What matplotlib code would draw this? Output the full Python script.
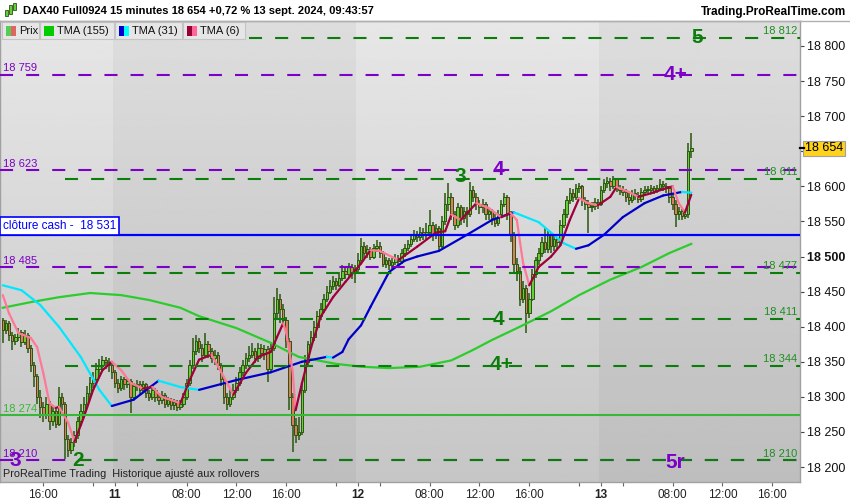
import numpy as np
import matplotlib
matplotlib.use("Agg")
import matplotlib.pyplot as plt
import matplotlib.transforms as mtransforms
from matplotlib.patches import Rectangle

plt.rcParams['font.family'] = ['Liberation Sans', 'DejaVu Sans']
plt.rcParams['lines.scale_dashes'] = False

W, H = 850, 500

# 15 minute bars, bar 0 = 11 sept. 02:15, 78 bars a day
BARS_PER_DAY = 78
SESSION_START = 2.25
FIRST_BAR = -36
FIRST_OPEN = 18410

closes = [
    18395, 18405, 18388, 18380, 18385, 18392, 18378, 18388, 18370, 18345, 18330, 18300,
    18285, 18275, 18290, 18265, 18280, 18262, 18300, 18290, 18240, 18225, 18235, 18245,
    18265, 18280, 18290, 18305, 18320, 18325, 18340, 18345, 18352, 18350, 18345, 18335,
    # 11 sept
    18320, 18312, 18325, 18318, 18322, 18300, 18315, 18318, 18310, 18318, 18305, 18300,
    18310, 18300, 18295, 18302, 18290, 18296, 18288, 18292, 18285, 18290, 18300, 18320,
    18345, 18365, 18380, 18370, 18360, 18375, 18365, 18355, 18360, 18345, 18325, 18300,
    18290, 18300, 18310, 18320, 18335, 18345, 18355, 18360, 18365, 18355, 18370, 18362,
    18368, 18340, 18370, 18420, 18440, 18425, 18410, 18380, 18300, 18260, 18245, 18250,
    18310, 18350, 18375, 18385, 18400, 18415, 18425, 18440, 18450, 18458, 18465, 18460,
    18470, 18480, 18475, 18485, 18478, 18482,
    # 12 sept
    18495, 18515, 18505, 18510, 18500, 18512, 18515, 18505, 18490, 18495, 18488, 18492,
    18498, 18494, 18505, 18512, 18518, 18525, 18530, 18528, 18535, 18532, 18535, 18545,
    18530, 18540, 18515, 18550, 18575, 18585, 18560, 18545, 18570, 18555, 18565, 18560,
    18595, 18585, 18575, 18570, 18575, 18560, 18565, 18555, 18548, 18560, 18575, 18585,
    18560, 18530, 18490, 18480, 18440, 18455, 18420, 18440, 18475, 18495, 18505, 18520,
    18510, 18530, 18515, 18525, 18520, 18545, 18560, 18580, 18590, 18585, 18598, 18600,
    18580, 18575, 18570, 18572, 18578, 18575,
    # 13 sept
    18595, 18605, 18608, 18600, 18610, 18598, 18595, 18592, 18585, 18580, 18590, 18588,
    18582, 18592, 18595, 18595, 18598, 18594, 18597, 18603, 18600, 18598, 18585, 18575,
    18560, 18565, 18558, 18560, 18650, 18654,
]

highs = [
    18412, 18410, 18408, 18392, 18390, 18398, 18395, 18395, 18391, 18374, 18350, 18333,
    18310, 18292, 18300, 18294, 18288, 18285, 18314, 18306, 18292, 18246, 18242, 18252,
    18272, 18290, 18300, 18315, 18328, 18335, 18348, 18354, 18358, 18357, 18355, 18350,
    18338, 18326, 18330, 18328, 18327, 18325, 18320, 18324, 18322, 18322, 18320, 18310,
    18315, 18312, 18305, 18308, 18305, 18300, 18298, 18297, 18295, 18296, 18306, 18326,
    18352, 18384, 18388, 18384, 18375, 18391, 18380, 18370, 18367, 18364, 18348, 18328,
    18305, 18310, 18318, 18328, 18342, 18352, 18362, 18372, 18377, 18370, 18377, 18376,
    18374, 18372, 18378, 18442, 18455, 18446, 18432, 18414, 18384, 18305, 18270, 18272,
    18318, 18360, 18380, 18394, 18408, 18422, 18434, 18446, 18458, 18466, 18472, 18470,
    18478, 18488, 18486, 18491, 18490, 18488,
    18505, 18526, 18520, 18516, 18514, 18518, 18524, 18520, 18508, 18500, 18498, 18498,
    18503, 18502, 18510, 18518, 18524, 18532, 18538, 18536, 18542, 18540, 18548, 18566,
    18549, 18546, 18544, 18558, 18590, 18605, 18590, 18565, 18576, 18574, 18571, 18570,
    18606, 18600, 18590, 18580, 18582, 18578, 18570, 18568, 18560, 18566, 18580, 18590,
    18588, 18565, 18535, 18498, 18485, 18465, 18460, 18448, 18482, 18500, 18512, 18528,
    18542, 18536, 18534, 18530, 18528, 18552, 18568, 18586, 18598, 18596, 18603, 18605,
    18602, 18585, 18580, 18578, 18583, 18582,
    18600, 18610, 18614, 18612, 18615, 18612, 18602, 18600, 18596, 18590, 18595, 18596,
    18592, 18598, 18600, 18600, 18602, 18601, 18602, 18610, 18608, 18605, 18600, 18590,
    18580, 18570, 18568, 18566, 18662, 18676,
]

lows = [
    18377, 18390, 18380, 18367, 18374, 18380, 18371, 18374, 18362, 18335, 18314, 18290,
    18270, 18264, 18268, 18253, 18258, 18255, 18258, 18280, 18212, 18214, 18218, 18228,
    18240, 18258, 18272, 18285, 18298, 18312, 18320, 18333, 18338, 18340, 18335, 18326,
    18312, 18305, 18308, 18310, 18312, 18277, 18296, 18308, 18302, 18305, 18298, 18294,
    18296, 18292, 18288, 18290, 18284, 18285, 18282, 18282, 18280, 18281, 18286, 18296,
    18316, 18340, 18360, 18362, 18350, 18355, 18355, 18348, 18346, 18338, 18315, 18290,
    18281, 18285, 18295, 18305, 18316, 18330, 18340, 18350, 18355, 18348, 18350, 18355,
    18352, 18321, 18336, 18365, 18412, 18405, 18400, 18370, 18281, 18222, 18234, 18238,
    18246, 18305, 18345, 18368, 18380, 18396, 18410, 18420, 18435, 18446, 18452, 18452,
    18456, 18465, 18468, 18470, 18468, 18462,
    18478, 18490, 18498, 18498, 18495, 18496, 18506, 18498, 18485, 18484, 18481, 18482,
    18488, 18486, 18490, 18500, 18508, 18514, 18520, 18520, 18522, 18524, 18522, 18530,
    18522, 18525, 18509, 18512, 18545, 18565, 18552, 18538, 18540, 18545, 18548, 18542,
    18556, 18578, 18566, 18560, 18562, 18552, 18552, 18545, 18542, 18544, 18556, 18570,
    18552, 18520, 18476, 18465, 18430, 18434, 18391, 18412, 18436, 18470, 18488, 18500,
    18505, 18505, 18505, 18508, 18510, 18516, 18540, 18555, 18575, 18578, 18580, 18590,
    18572, 18566, 18534, 18564, 18566, 18568,
    18572, 18590, 18598, 18594, 18596, 18592, 18588, 18586, 18578, 18574, 18576, 18580,
    18576, 18578, 18588, 18590, 18591, 18589, 18590, 18594, 18594, 18590, 18576, 18566,
    18542, 18552, 18552, 18553, 18555, 18640,
]

# moving averages (bar index, value)
tma155_bars = [-36, -27, -18, -8, 2, 11, 21, 27, 39, 50, 59, 71, 79, 88, 98, 108, 115,
               121, 130, 140, 149, 159, 169, 178, 185]
tma155_vals = [18427, 18435, 18442, 18448, 18445, 18438, 18427, 18415, 18398, 18377, 18357,
               18347, 18343, 18341, 18343, 18352, 18367, 18381, 18400, 18422, 18445, 18467,
               18485, 18505, 18518]

tma31_bars = [-36, -30, -24, -18, -11, -5, -1, 6, 11, 14, 21, 27, 39, 50, 60, 68, 70, 73,
              75, 79, 82, 88, 93, 97, 104, 113, 121, 128, 136, 144, 148, 152, 157, 163,
              170, 176, 182, 185]
tma31_vals = [18459, 18452, 18431, 18400, 18357, 18310, 18287, 18296, 18313, 18323, 18314,
              18310, 18324, 18335, 18350, 18357, 18356, 18364, 18382, 18402, 18428, 18478,
              18494, 18500, 18508, 18531, 18552, 18563, 18549, 18519, 18511, 18516, 18531,
              18556, 18576, 18587, 18592, 18591]

tma6_bars = [-36, -34, -31, -27, -25, -23, -21, -19, -18, -15, -13, -10, -7, -4, -1, 2, 5,
             9, 12, 15, 21, 24, 27, 31, 35, 38, 42, 46, 50, 52, 54, 55, 57, 58, 60, 63, 66,
             70, 74, 79, 82, 85, 91, 97, 103, 106, 108, 111, 116, 120, 124, 127, 129, 131,
             133, 136, 140, 143, 146, 149, 152, 155, 159, 161, 165, 168, 172, 176, 179, 181,
             183, 185]
tma6_vals = [18445, 18419, 18391, 18384, 18371, 18334, 18291, 18284, 18286, 18263, 18236,
             18271, 18310, 18338, 18350, 18338, 18320, 18312, 18314, 18300, 18291, 18324,
             18353, 18360, 18328, 18303, 18334, 18357, 18364, 18385, 18405, 18391, 18338,
             18281, 18319, 18371, 18414, 18442, 18464, 18490, 18509, 18508, 18495, 18514,
             18534, 18536, 18560, 18552, 18576, 18569, 18556, 18562, 18552, 18491, 18459,
             18485, 18500, 18516, 18552, 18583, 18576, 18573, 18585, 18599, 18592, 18585,
             18590, 18596, 18600, 18576, 18563, 18588]

# horizontal levels
purple_levels = [18759, 18623, 18485, 18210]
green_levels = [18812, 18611, 18477, 18411, 18344, 18210]
green_level_start = [43, -16, -16, -16, -16, -16]
support_level = 18274
cash_close = 18531
last_price = 18654

wave_labels = [("5", 187, 18812, "g"), ("4+", 180, 18759, "p"), ("4", 123, 18624, "p"),
               ("3", 111, 18614, "g"), ("4", 123, 18410, "g"), ("4+", 124, 18346, "g"),
               ("3", -32, 18209, "p"), ("2", -12, 18210, "g"), ("5r", 180, 18207, "p")]

tick_days = [10, 11, 11, 11, 11, 12, 12, 12, 12, 13, 13, 13, 13]
tick_hours = [16, None, 8, 12, 16, None, 8, 12, 16, None, 8, 12, 16]

PURPLE = '#7d00c6'
GREEN = '#0b7d0b'
GREEN_TXT = '#1f8f1f'
SUPPORT = '#38b838'
BLUE = '#0000ff'
OUTLINE = '#2a560e'


def bar_pos(day, hour):
    if hour is None:
        hour = SESSION_START
    return (day - 11) * BARS_PER_DAY + (hour - SESSION_START) * 4


def fmt(v):
    return f"{v:,}".replace(",", " ")


def draw_tma(ax, xs, ys, up, down, lw):
    for k in range(len(xs) - 1):
        c = up if ys[k + 1] >= ys[k] else down
        ax.plot(xs[k:k + 2], ys[k:k + 2], color=c, lw=lw,
                solid_capstyle='round', zorder=3)


fig = plt.figure(figsize=(W / 100, H / 100), dpi=100)
fig.patch.set_facecolor('white')
px = mtransforms.Affine2D().scale(1.0 / W, -1.0 / H).translate(0, 1) + fig.transFigure

ax = fig.add_axes([0, 1 - 482 / H, 800 / W, (482 - 21) / H])
x0, x1 = -36.9, 219.9
y0, y1 = 18178.7, 18835.6
ax.set_xlim(x0, x1)
ax.set_ylim(y0, y1)

# background
grad = np.linspace(0.775, 0.905, 256)[:, None]
ax.imshow(grad, extent=[x0, x1, y0, y1], aspect='auto', cmap='gray',
          vmin=0, vmax=1, origin='lower', zorder=0)
for d in (11, 13):
    s = bar_pos(d, None) - 0.5
    ax.axvspan(s, s + BARS_PER_DAY, color='black', alpha=0.04, lw=0, zorder=0.5)

# candles
bars = np.arange(FIRST_BAR, FIRST_BAR + len(closes))
c = np.array(closes, float)
o = np.array([FIRST_OPEN] + closes[:-1], float)
hi = np.array(highs, float)
lo = np.array(lows, float)
ax.vlines(bars, lo, hi, color=OUTLINE, lw=1.1, zorder=2)
body_lo = np.minimum(o, c)
body_h = np.maximum(np.abs(c - o), 0.8)
fills = np.where(c >= o, '#66cc3c', '#e07a62')
ax.bar(bars, body_h, bottom=body_lo, width=0.8, color=fills,
       edgecolor=OUTLINE, lw=0.7, zorder=2.1)

# moving averages
ax.plot(tma155_bars, tma155_vals, color='#2ccc2c', lw=1.6, zorder=3)
draw_tma(ax, tma31_bars, tma31_vals, '#0000c8', '#00e8ff', 1.6)
draw_tma(ax, tma6_bars, tma6_vals, '#a0003a', '#ff7898', 1.6)

# levels
dash = (0, (9.4, 9.4))
for lv in purple_levels:
    ax.hlines(lv, x0, x1, color=PURPLE, lw=1.5, linestyle=dash, zorder=4)
for lv, st in zip(green_levels, green_level_start):
    ls = (9.4, (9.4, 9.4)) if lv in purple_levels else dash
    ax.hlines(lv, st, x1, color=GREEN, lw=1.5, linestyle=ls, zorder=4)
ax.axhline(support_level, color=SUPPORT, lw=1.5, zorder=4)
ax.axhline(cash_close, color=BLUE, lw=1.6, zorder=4)

blend = mtransforms.blended_transform_factory(ax.transAxes, ax.transData)
left_tr = mtransforms.offset_copy(blend, fig=fig, y=1.5, units='dots')
for lv in purple_levels:
    ax.text(3 / 800, lv, fmt(lv), transform=left_tr, color=PURPLE,
            fontsize=8, va='bottom', ha='left', zorder=5)
ax.text(3 / 800, support_level, fmt(support_level), transform=left_tr,
        color=SUPPORT, fontsize=8, va='bottom', ha='left', zorder=5)
for lv in green_levels:
    ax.text(797 / 800, lv, fmt(lv), transform=left_tr, color=GREEN_TXT,
            fontsize=8, va='bottom', ha='right', zorder=5)

ax.text(0, cash_close, "clôture cash -  " + fmt(cash_close),
        transform=mtransforms.offset_copy(blend, fig=fig, x=3, y=2.5, units='dots'),
        color=BLUE, fontsize=8.5, va='bottom', ha='left', zorder=6,
        bbox=dict(boxstyle='square,pad=0.25', fc='white', ec=BLUE, lw=1.2))

for txt, xb, yv, col in wave_labels:
    ax.text(xb, yv, txt, color=GREEN if col == "g" else PURPLE, fontsize=15,
            fontweight='bold', ha='center', va='center', zorder=6)

ax.text(3 / 800, y0 + 2.5 / 0.7017, "ProRealTime Trading  Historique ajusté aux rollovers",
        transform=blend, fontsize=7.8, color='#222222', va='bottom', ha='left', zorder=6)

# axes
for sp in ax.spines.values():
    sp.set_color('#a0a0a0')
    sp.set_linewidth(1.0)
ax.yaxis.tick_right()
yt = np.arange(18200, 18801, 50)
ax.set_yticks(yt)
ax.set_yticklabels(["" if abs(v - last_price) < 20 else fmt(v) for v in yt])
for lab, v in zip(ax.get_yticklabels(), yt):
    if v == 18500:
        lab.set_fontweight('bold')
        lab.set_fontsize(10)
ax.tick_params(axis='y', direction='out', length=3, width=0.8, color='#444444',
               labelsize=9, pad=2, labelcolor='#111111')

xt = [bar_pos(d, h) for d, h in zip(tick_days, tick_hours)]
xl = [str(d) if h is None else f"{h:02d}:00" for d, h in zip(tick_days, tick_hours)]
ax.set_xticks(xt)
ax.set_xticklabels(xl)
for lab, h in zip(ax.get_xticklabels(), tick_hours):
    if h is None:
        lab.set_fontweight('bold')
        lab.set_fontsize(10)
minor = [bar_pos(d, h) for d in (10, 11, 12, 13) for h in (4, 20)]
ax.set_xticks([m for m in minor if x0 < m < x1], minor=True)
ax.tick_params(axis='x', which='both', direction='out', length=3, width=0.8,
               color='#666666', labelsize=8.5, pad=2, labelcolor='#222222')

# last price marker
price_tr = mtransforms.blended_transform_factory(px, ax.transData)
ax.text(805, last_price, fmt(last_price), transform=price_tr,
        fontsize=9, color='black', va='center', ha='left', clip_on=False, zorder=7,
        bbox=dict(boxstyle='square,pad=0.15', fc='#ffd21c', ec='#a0a0a0', lw=0.8))
ax.plot([800, 804], [last_price, last_price], transform=price_tr, color='black',
        lw=1.6, clip_on=False, zorder=7)

# header
fig.add_artist(plt.Line2D([0, W], [21, 21], transform=px, color='#b0b0b0', lw=1))
fig.text(23, 11, "DAX40 Full0924 15 minutes 18 654 +0,72 % 13 sept. 2024, 09:43:57",
         transform=px, fontsize=8, fontweight='bold', va='center', ha='left')
fig.text(846, 12, "Trading.ProRealTime.com", transform=px, fontsize=8.5,
         fontweight='bold', va='center', ha='right')
for (bx, by, bw, bh) in [(5, 10, 3, 6), (9, 5, 3, 9), (13, 3, 3, 7)]:
    fig.add_artist(Rectangle((bx, by), bw, bh, transform=px, fc='#66cc3c',
                             ec=OUTLINE, lw=0.6))

# legend boxes
legend = [("Prix", 2, 39, ('#55cc55', '#e06464')),
          ("TMA (155)", 40, 114, ('#00cc00', '#00cc00')),
          ("TMA (31)", 115, 182, ('#0000cc', '#00ffff')),
          ("TMA (6)", 183, 245, ('#990033', '#ff6699'))]
for name, lx, rx, (c1, c2) in legend:
    fig.add_artist(Rectangle((lx, 22), rx - lx, 17, transform=px, fc='#e6e6e6',
                             ec='#c4c4c4', lw=0.8))
    fig.add_artist(Rectangle((lx + 4, 26), 5, 10, transform=px, fc=c1, ec='none'))
    fig.add_artist(Rectangle((lx + 9, 26), 5, 10, transform=px, fc=c2, ec='none'))
    fig.text(lx + 17, 31, name, transform=px, fontsize=8, va='center', ha='left',
             color='#111111')

fig.savefig("out.png", dpi=100, facecolor='white')
